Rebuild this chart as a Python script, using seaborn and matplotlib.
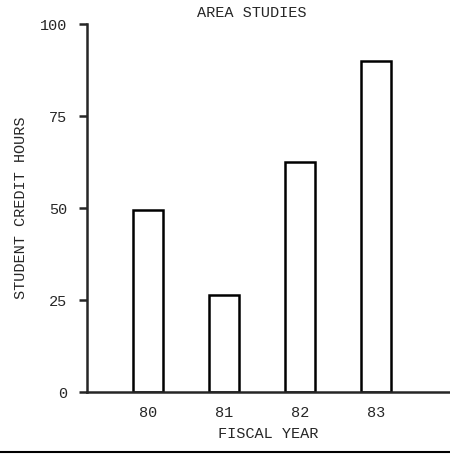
import matplotlib
matplotlib.use("Agg")
import matplotlib.pyplot as plt
import pandas as pd
import seaborn as sns

# values
years = ["80", "81", "82", "83"]
credit_hours = [49.5, 26.5, 62.5, 90]
y_ticks = [0, 25, 50, 75, 100]

sns.set_style("ticks")
plt.rcParams["font.family"] = ["Liberation Mono", "DejaVu Sans Mono"]

df = pd.DataFrame({"year": years, "hours": credit_hours})

fig = plt.figure(figsize=(4.5, 4.55), dpi=100)
ax = fig.add_axes([0.193, 0.138, 0.807, 0.809])

sns.barplot(data=df, x="year", y="hours", ax=ax, color="white",
            edgecolor="black", linewidth=1.8, width=0.4, saturation=1)

ax.set_xlim(-0.8, 3.97)
ax.set_ylim(0, 100)
ax.set_yticks(y_ticks)
ax.set_yticklabels([str(t) for t in y_ticks], fontsize=11)
ax.tick_params(axis="y", length=6, width=1.8, pad=8)
ax.tick_params(axis="x", length=0, pad=10, labelsize=11)

for side in ["top", "right"]:
    ax.spines[side].set_visible(False)
for side in ["left", "bottom"]:
    ax.spines[side].set_linewidth(1.8)

ax.set_xlabel("FISCAL YEAR", fontsize=11, labelpad=5)
ax.set_ylabel("STUDENT CREDIT HOURS", fontsize=11, labelpad=9)
fig.text(0.56, 0.972, "AREA STUDIES", ha="center", va="center", fontsize=11)

# rule along the bottom of the page
fig.add_artist(plt.Line2D([0.0, 1.0], [0.007, 0.007], color="black", linewidth=1.5))

fig.savefig("out.png", dpi=100)
